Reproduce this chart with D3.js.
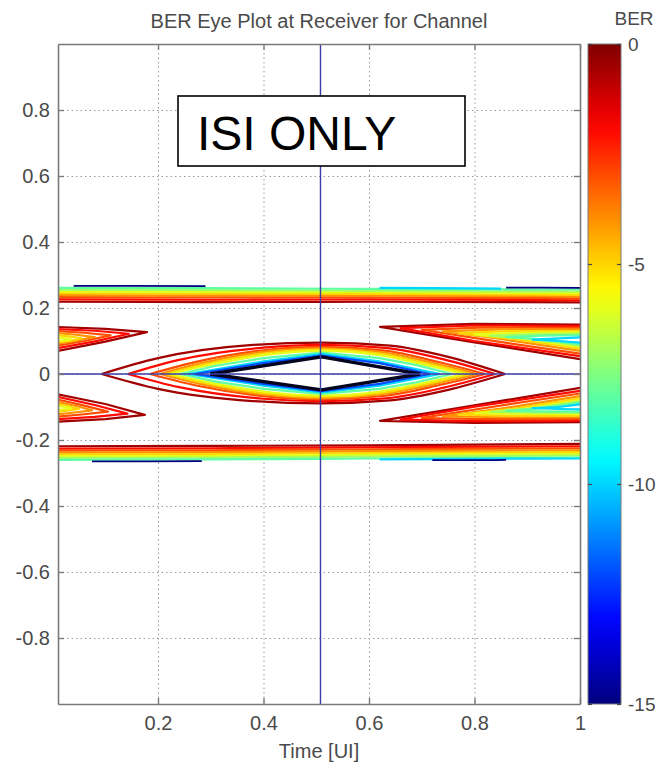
<!DOCTYPE html>
<html>
<head>
<meta charset="utf-8">
<script src="https://cdn.jsdelivr.net/npm/d3@7"></script>
<style>
  body { margin: 0; background: #fff; }
  text { font-family: Arial, "Liberation Sans", sans-serif; }
</style>
</head>
<body>
<svg id="chart" width="672" height="767"></svg>
<script>
// tick values
const xTicks = [0.2, 0.4, 0.6, 0.8, 1];
const yTicks = [-0.8, -0.6, -0.4, -0.2, 0, 0.2, 0.4, 0.6, 0.8];
const berTicks = [0, -5, -10, -15];
const markerX = 0.508;
const noteText = 'ISI ONLY';

// contours: [log10 BER level, [[time, amplitude], ...]]
const eyeUpper = [
  [-0.5, [[.093, 0], [.2, .048], [.38, .088], [.51, .095], [.64, .086], [.75, .052], [.858, 0]]],
  [-2, [[.143, 0], [.24, .043], [.4, .08], [.51, .088], [.63, .079], [.74, .045], [.839, 0]]],
  [-3, [[.185, 0], [.27, .036], [.4, .072], [.51, .082], [.63, .071], [.73, .037], [.82, 0]]],
  [-4, [[.204, 0], [.28, .032], [.4, .067], [.51, .078], [.62, .067], [.72, .034], [.805, 0]]],
  [-5, [[.215, 0], [.29, .03], [.4, .062], [.51, .074], [.62, .062], [.71, .032], [.792, 0]]],
  [-6, [[.223, 0], [.3, .028], [.4, .057], [.51, .07], [.62, .057], [.7, .03], [.78, 0]]],
  [-8, [[.242, 0], [.31, .025], [.4, .048], [.51, .065], [.62, .048], [.69, .027], [.757, 0]]],
  [-10, [[.257, 0], [.4, .038], [.51, .06], [.62, .038], [.735, 0]]],
  [-12, [[.27, 0], [.4, .033], [.51, .056], [.62, .033], [.716, 0]]],
  [-15, [[.299, 0], [.51, .052], [.697, 0]]]
];
const eyeLower = [
  [-0.5, [[.093, 0], [.2, -.045], [.38, -.082], [.51, -.089], [.64, -.08], [.75, -.048], [.858, 0]]],
  [-2, [[.143, 0], [.24, -.04], [.4, -.075], [.51, -.082], [.63, -.074], [.74, -.042], [.839, 0]]],
  [-3, [[.185, 0], [.27, -.034], [.4, -.067], [.51, -.077], [.63, -.066], [.73, -.035], [.82, 0]]],
  [-4, [[.204, 0], [.28, -.03], [.4, -.062], [.51, -.073], [.62, -.062], [.72, -.032], [.805, 0]]],
  [-5, [[.215, 0], [.29, -.028], [.4, -.058], [.51, -.069], [.62, -.058], [.71, -.03], [.792, 0]]],
  [-6, [[.223, 0], [.3, -.026], [.4, -.053], [.51, -.065], [.62, -.053], [.7, -.028], [.78, 0]]],
  [-8, [[.242, 0], [.31, -.023], [.4, -.045], [.51, -.06], [.62, -.045], [.69, -.025], [.757, 0]]],
  [-10, [[.257, 0], [.4, -.035], [.51, -.056], [.62, -.035], [.735, 0]]],
  [-12, [[.27, 0], [.4, -.03], [.51, -.052], [.62, -.03], [.716, 0]]],
  [-15, [[.299, 0], [.51, -.048], [.697, 0]]]
];
const upperBand = [
  [-0.5, [[0, .219], [.3, .218], [.6, .219], [1, .217]]],
  [-2, [[0, .226], [.3, .225], [.6, .226], [1, .223]]],
  [-3, [[0, .233], [.3, .232], [.6, .232], [1, .229]]],
  [-4, [[0, .239], [.3, .238], [.6, .238], [1, .235]]],
  [-5, [[0, .245], [.3, .244], [.6, .243], [1, .24]]],
  [-6, [[0, .25], [.3, .249], [.6, .248], [1, .245]]],
  [-7, [[0, .255], [.3, .254], [.6, .252], [1, .25]]],
  [-8, [[0, .261], [.3, .26], [.6, .258], [1, .256]]],
  [-10, [[.62, .261], [.72, .26], [.85, .259]]],
  [-15, [[.04, .267], [.15, .267], [.29, .266]]],
  [-15, [[.86, .262], [.93, .262], [1, .261]]]
];
const lowerBand = [
  [-0.5, [[0, -.219], [.3, -.218], [.6, -.216], [1, -.212]]],
  [-2, [[0, -.226], [.3, -.225], [.6, -.222], [1, -.219]]],
  [-3, [[0, -.232], [.3, -.231], [.6, -.228], [1, -.225]]],
  [-4, [[0, -.238], [.3, -.237], [.6, -.234], [1, -.231]]],
  [-5, [[0, -.244], [.3, -.243], [.6, -.24], [1, -.237]]],
  [-6, [[0, -.249], [.3, -.248], [.6, -.245], [1, -.242]]],
  [-7, [[0, -.254], [.3, -.253], [.6, -.25], [1, -.247]]],
  [-8, [[0, -.26], [.3, -.259], [.6, -.256], [1, -.253]]],
  [-10, [[.62, -.259], [.8, -.257], [1, -.256]]],
  [-15, [[.075, -.265], [.18, -.265], [.283, -.264]]],
  [-15, [[.72, -.261], [.8, -.261], [.86, -.26]]]
];
const leftWedges = [
  [-0.5, [[0, .143], [.1, .137], [.179, .127], [.1, .098], [0, .067]]],
  [-2, [[0, .137], [.08, .131], [.145, .122], [.08, .099], [0, .075]]],
  [-3, [[0, .131], [.06, .125], [.11, .117], [.06, .1], [0, .083]]],
  [-4, [[0, .125], [.045, .119], [.08, .112], [.045, .101], [0, .089]]],
  [-5, [[0, .119], [.035, .113], [.055, .108], [.035, .101], [0, .095]]],
  [-6, [[0, .113], [.025, .108], [.035, .105], [.025, .102], [0, .099]]],
  [-0.5, [[0, -.058], [.1, -.091], [.175, -.124], [.1, -.137], [0, -.145]]],
  [-2, [[0, -.066], [.08, -.094], [.142, -.12], [.08, -.13], [0, -.138]]],
  [-3, [[0, -.074], [.06, -.096], [.105, -.114], [.06, -.122], [0, -.131]]],
  [-4, [[0, -.082], [.045, -.097], [.075, -.11], [.045, -.116], [0, -.124]]],
  [-5, [[0, -.089], [.03, -.098], [.05, -.106], [.03, -.11], [0, -.117]]],
  [-6, [[0, -.095], [.025, -.1], [.035, -.104], [.025, -.106], [0, -.11]]]
];
const rightWedges = [
  [-0.5, [[1, .15], [.8, .152], [.621, .143], [.8, .096], [1, .045]]],
  [-2, [[1, .145], [.8, .147], [.66, .139], [.8, .1], [1, .054]]],
  [-3, [[1, .14], [.82, .141], [.7, .134], [.82, .104], [1, .062]]],
  [-4, [[1, .135], [.85, .135], [.74, .129], [.85, .106], [1, .07]]],
  [-5, [[1, .13], [.87, .13], [.77, .124], [.87, .107], [1, .077]]],
  [-6, [[1, .126], [.89, .125], [.8, .12], [.89, .107], [1, .082]]],
  [-7, [[1, .122], [.91, .12], [.83, .116], [.91, .106], [1, .086]]],
  [-8, [[1, .118], [.93, .116], [.86, .112], [.93, .105], [1, .09]]],
  [-10, [[1, .111], [.96, .108], [.91, .104], [.96, .1], [1, .095]]],
  [-0.5, [[1, -.042], [.8, -.095], [.621, -.142], [.8, -.148], [1, -.146]]],
  [-2, [[1, -.051], [.8, -.099], [.66, -.138], [.8, -.143], [1, -.141]]],
  [-3, [[1, -.059], [.82, -.103], [.7, -.133], [.82, -.137], [1, -.136]]],
  [-4, [[1, -.067], [.85, -.105], [.74, -.128], [.85, -.131], [1, -.131]]],
  [-5, [[1, -.074], [.87, -.106], [.77, -.123], [.87, -.126], [1, -.126]]],
  [-6, [[1, -.079], [.89, -.106], [.8, -.119], [.89, -.121], [1, -.122]]],
  [-7, [[1, -.083], [.91, -.105], [.83, -.115], [.91, -.117], [1, -.118]]],
  [-8, [[1, -.087], [.93, -.104], [.86, -.111], [.93, -.113], [1, -.114]]],
  [-10, [[1, -.092], [.96, -.1], [.91, -.103], [.96, -.106], [1, -.107]]]
];

const svg = d3.select('#chart');
const plot = { left: 58, right: 580, top: 44, bottom: 704 };
const bar = { left: 588, right: 621 };
const axisGray = '#7a7a7a';
const textGray = '#4a4a4a';

const x = d3.scaleLinear().domain([0.0104, 1]).range([plot.left, plot.right]);
const y = d3.scaleLinear().domain([-1, 1]).range([plot.bottom, plot.top]);
const yBar = d3.scaleLinear().domain([-15, 0]).range([plot.bottom, plot.top]);

// jet colormap on log10(BER)
const jet = d3.scaleLinear()
  .domain([-15, -13.125, -9.375, -5.625, -1.875, 0])
  .range(['#00007f', '#0000ff', '#00ffff', '#ffff00', '#ff0000', '#7f0000'])
  .clamp(true);

const defs = svg.append('defs');
defs.append('clipPath').attr('id', 'plotClip')
  .append('rect')
  .attr('x', plot.left).attr('y', plot.top)
  .attr('width', plot.right - plot.left).attr('height', plot.bottom - plot.top);

const grad = defs.append('linearGradient')
  .attr('id', 'jetGrad')
  .attr('x1', 0).attr('y1', '100%').attr('x2', 0).attr('y2', '0%');
grad.selectAll('stop')
  .data(d3.range(-15, 0.01, 0.5))
  .enter()
  .append('stop')
  .attr('offset', (d) => ((d + 15) / 15 * 100) + '%')
  .attr('stop-color', (d) => jet(d));

// grid
const gridX = svg.append('g')
  .attr('transform', `translate(0,${plot.top})`)
  .call(d3.axisBottom(x).tickValues(xTicks).tickSize(plot.bottom - plot.top).tickFormat(''));
const gridY = svg.append('g')
  .attr('transform', `translate(${plot.left},0)`)
  .call(d3.axisRight(y).tickValues(yTicks).tickSize(plot.right - plot.left).tickFormat(''));
[gridX, gridY].forEach((g) => {
  g.select('.domain').remove();
  g.selectAll('line')
    .attr('stroke', '#9a9a9a')
    .attr('stroke-width', 1)
    .attr('stroke-dasharray', '1.5,3');
});

// contours
const layer = svg.append('g').attr('clip-path', 'url(#plotClip)');
const smooth = d3.line().x((d) => x(d[0])).y((d) => y(d[1])).curve(d3.curveMonotoneX);
const straight = d3.line().x((d) => x(d[0])).y((d) => y(d[1]));
// deep eye contours are diamond shaped, outer ones are rounder
const eyeLine = (pts, level) => (level <= -8 ? straight(pts) : smooth(pts));

function drawSet(data, gen) {
  layer.append('g')
    .selectAll('path')
    .data(data)
    .enter()
    .append('path')
    .attr('d', (d) => gen(d[1], d[0]))
    .attr('fill', 'none')
    .attr('stroke', (d) => jet(d[0]))
    .attr('stroke-width', (d) => (d[0] <= -15 ? 1.8 : 2.2))
    .attr('stroke-linejoin', 'round');
}
drawSet(upperBand, smooth);
drawSet(lowerBand, smooth);
drawSet(leftWedges, straight);
drawSet(rightWedges, straight);
drawSet(eyeUpper, eyeLine);
drawSet(eyeLower, eyeLine);
layer.selectAll('.inner')
  .data([eyeUpper[eyeUpper.length - 1], eyeLower[eyeLower.length - 1]])
  .enter()
  .append('path')
  .attr('d', (d) => straight(d[1]))
  .attr('fill', 'none')
  .attr('stroke', '#050520')
  .attr('stroke-width', 3.4)
  .attr('stroke-linejoin', 'round');

// blue marker lines
svg.append('line')
  .attr('x1', x(markerX)).attr('x2', x(markerX))
  .attr('y1', y(-1)).attr('y2', y(1))
  .attr('stroke', '#3c3ca8').attr('stroke-width', 1.4);
svg.append('line')
  .attr('x1', x.range()[0]).attr('x2', x.range()[1])
  .attr('y1', y(0)).attr('y2', y(0))
  .attr('stroke', '#3c3ca8').attr('stroke-width', 1.4);

// axes with inward ticks on all four sides
const fmt = (d) => String(d);
const axes = [
  svg.append('g').attr('transform', `translate(0,${plot.bottom})`)
    .call(d3.axisBottom(x).tickValues(xTicks).tickSize(-6).tickSizeOuter(0).tickPadding(12).tickFormat(fmt)),
  svg.append('g').attr('transform', `translate(0,${plot.top})`)
    .call(d3.axisTop(x).tickValues(xTicks).tickSize(-6).tickSizeOuter(0).tickFormat('')),
  svg.append('g').attr('transform', `translate(${plot.left},0)`)
    .call(d3.axisLeft(y).tickValues(yTicks).tickSize(-6).tickSizeOuter(0).tickPadding(8).tickFormat(fmt)),
  svg.append('g').attr('transform', `translate(${plot.right},0)`)
    .call(d3.axisRight(y).tickValues(yTicks).tickSize(-6).tickSizeOuter(0).tickFormat(''))
];
axes.forEach((g) => {
  g.select('.domain').attr('stroke', axisGray).attr('stroke-width', 1.6);
  g.selectAll('line').attr('stroke', axisGray).attr('stroke-width', 1.4);
  g.selectAll('text').attr('fill', textGray).attr('font-size', 20)
    .attr('font-family', 'Arial, "Liberation Sans", sans-serif');
});

// colorbar
svg.append('rect')
  .attr('x', bar.left).attr('y', plot.top)
  .attr('width', bar.right - bar.left).attr('height', plot.bottom - plot.top)
  .attr('fill', 'url(#jetGrad)')
  .attr('stroke', axisGray).attr('stroke-width', 1);
const barR = svg.append('g').attr('transform', `translate(${bar.right},0)`)
  .call(d3.axisRight(yBar).tickValues(berTicks).tickSize(-4).tickSizeOuter(0).tickPadding(7).tickFormat(fmt));
const barL = svg.append('g').attr('transform', `translate(${bar.left},0)`)
  .call(d3.axisLeft(yBar).tickValues(berTicks).tickSize(-4).tickSizeOuter(0).tickFormat(''));
[barR, barL].forEach((g) => {
  g.select('.domain').remove();
  g.selectAll('line').attr('stroke', '#444').attr('stroke-width', 1.2);
  g.selectAll('text').attr('fill', textGray).attr('font-size', 19)
    .attr('font-family', 'Arial, "Liberation Sans", sans-serif');
});
svg.append('text')
  .attr('x', 634).attr('y', 25)
  .attr('text-anchor', 'middle')
  .attr('fill', textGray).attr('font-size', 19)
  .text('BER');

// titles
svg.append('text')
  .attr('x', (plot.left + plot.right) / 2).attr('y', 28)
  .attr('text-anchor', 'middle')
  .attr('fill', textGray).attr('font-size', 20)
  .text('BER Eye Plot at Receiver for Channel');
svg.append('text')
  .attr('x', (plot.left + plot.right) / 2).attr('y', 758)
  .attr('text-anchor', 'middle')
  .attr('fill', textGray).attr('font-size', 20)
  .text('Time [UI]');

// annotation box
svg.append('rect')
  .attr('x', 178).attr('y', 96).attr('width', 287).attr('height', 70)
  .attr('fill', '#fff').attr('stroke', '#000').attr('stroke-width', 1.6);
svg.append('text')
  .attr('x', 197).attr('y', 150)
  .attr('fill', '#000').attr('font-size', 48)
  .text(noteText);
</script>
</body>
</html>
